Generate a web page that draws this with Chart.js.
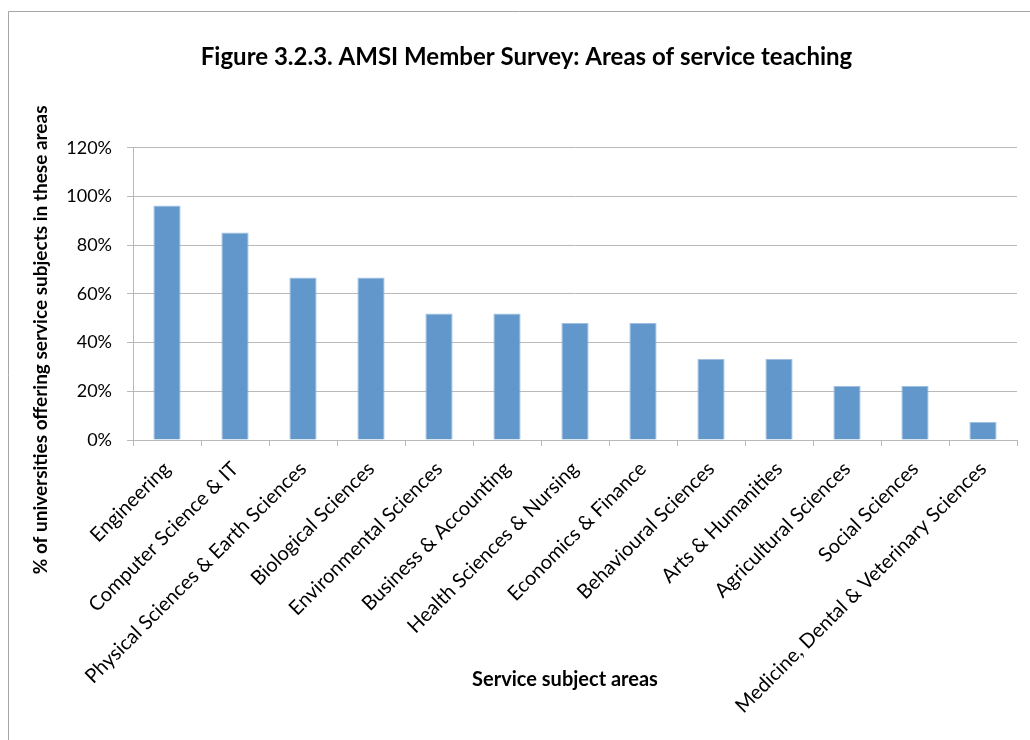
<!DOCTYPE html>
<html>
<head>
<meta charset="utf-8">
<title>Areas of service teaching</title>
<script src="https://cdn.jsdelivr.net/npm/chart.js@4.4.1/dist/chart.umd.min.js"></script>
<style>
  html, body { margin: 0; padding: 0; background: #fff; }
  #wrap { position: relative; width: 1030px; height: 740px; }
</style>
</head>
<body>
<div id="wrap"><canvas id="mycanvas"></canvas></div>
<script>
var areas = [
    "Engineering",
    "Computer Science & IT",
    "Physical Sciences & Earth Sciences",
    "Biological Sciences",
    "Environmental Sciences",
    "Business & Accounting",
    "Health Sciences & Nursing",
    "Economics & Finance",
    "Behavioural Sciences",
    "Arts & Humanities",
    "Agricultural Sciences",
    "Social Sciences",
    "Medicine, Dental & Veterinary Sciences"
];
// % of universities offering service subjects
var offering = [96.3, 85.2, 66.7, 66.7, 51.9, 51.9, 48.1, 48.1, 33.3, 33.3, 22.2, 22.2, 7.4];
var yTicks = [0, 20, 40, 60, 80, 100, 120];

var titleText = "Figure 3.2.3. AMSI Member Survey: Areas of service teaching";
var xTitle = "Service subject areas";
var yTitle = "% of universities offering service subjects in these areas";

var gridGrey = "#b9b9b9";

// frame round the chart plus the two axis titles
var frameAndTitles = {
    id: "frameAndTitles",
    beforeDraw: function (chart) {
        var c = chart.ctx;
        c.save();
        c.strokeStyle = "#a6a6a6";
        c.lineWidth = 1;
        c.beginPath();
        c.moveTo(8.5, 740);
        c.lineTo(8.5, 11.5);
        c.lineTo(1030, 11.5);
        c.stroke();
        c.restore();
    },
    afterDraw: function (chart) {
        var c = chart.ctx;
        var a = chart.chartArea;
        c.save();
        c.fillStyle = "#000";
        c.textAlign = "center";
        c.textBaseline = "middle";
        c.font = "bold 20px Lato";
        c.fillText(xTitle, (a.left + a.right) / 2 - 10, a.bottom + 240);
        c.translate(41, (a.top + a.bottom) / 2 + 46);
        c.rotate(-Math.PI / 2);
        c.font = "bold 19px Lato";
        c.fillText(yTitle, 0, 0);
        c.restore();
    }
};

var ctx = document.getElementById("mycanvas");

var data = {
    labels: areas,
    datasets: [
        {
            label: "Offering",
            data: offering,
            backgroundColor: "#6197ca",
            borderColor: "#9fbfe2",
            borderWidth: 1,
            barPercentage: 0.4,
            categoryPercentage: 1
        }
    ]
};

var options = {
    responsive: true,
    maintainAspectRatio: false,
    animation: false,
    layout: {
        padding: { left: 36, right: 13, top: 0, bottom: 0 }
    },
    plugins: {
        legend: { display: false },
        tooltip: { enabled: false },
        title: {
            display: true,
            position: "top",
            text: titleText,
            color: "#000",
            font: { family: "Lato", size: 24, weight: "bold", lineHeight: 1.2 },
            padding: { top: 43, bottom: 76 }
        }
    },
    scales: {
        x: {
            offset: true,
            grid: {
                offset: true,
                drawOnChartArea: false,
                drawTicks: true,
                tickLength: 6,
                color: gridGrey
            },
            border: { color: gridGrey },
            ticks: {
                autoSkip: false,
                minRotation: 45,
                maxRotation: 45,
                padding: 11,
                color: "#000",
                font: { family: "Lato", size: 20 }
            },
            afterFit: function (scale) {
                scale.height = 300;
            }
        },
        y: {
            min: 0,
            max: 120,
            afterBuildTicks: function (scale) {
                scale.ticks = yTicks.map(function (v) { return { value: v }; });
            },
            grid: {
                color: gridGrey,
                tickLength: 6
            },
            border: { color: gridGrey },
            ticks: {
                padding: 15,
                color: "#000",
                font: { family: "Lato", size: 18 },
                callback: function (v) { return v + "%"; }
            },
            afterFit: function (scale) {
                scale.width = 97;
            }
        }
    }
};

var chart = new Chart(ctx, {
    type: "bar",
    data: data,
    options: options,
    plugins: [frameAndTitles]
});
</script>
</body>
</html>
